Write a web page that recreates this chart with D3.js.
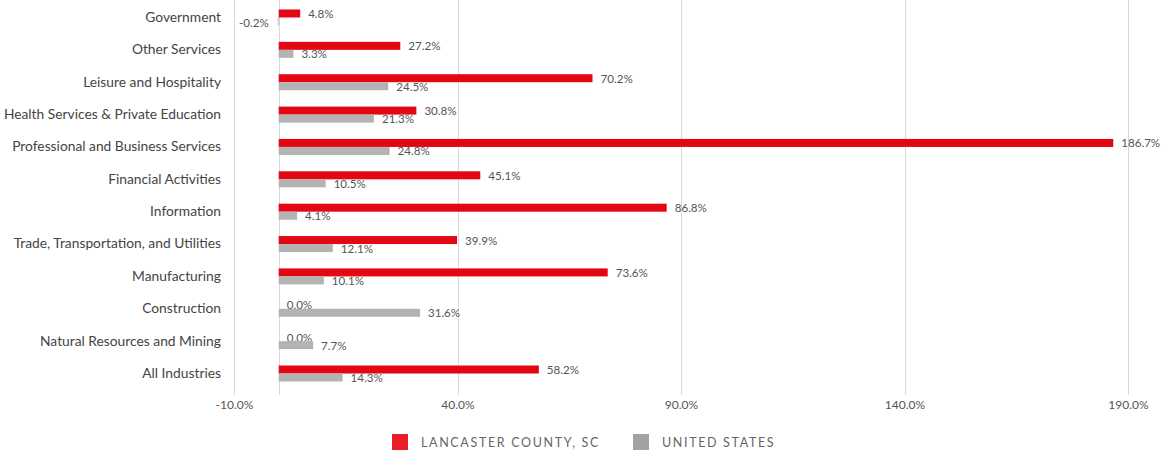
<!DOCTYPE html>
<html><head><meta charset="utf-8">
<script src="https://cdn.jsdelivr.net/npm/d3@7"></script>
<style>
body{margin:0;background:#fff;}
svg{display:block;font-family:Lato,"Open Sans",sans-serif;}
</style></head>
<body>
<svg id="c" width="1161" height="453"></svg>
<script>
const categories = ["Government","Other Services","Leisure and Hospitality","Health Services & Private Education","Professional and Business Services","Financial Activities","Information","Trade, Transportation, and Utilities","Manufacturing","Construction","Natural Resources and Mining","All Industries"];
const lancaster = [4.8,27.2,70.2,30.8,186.7,45.1,86.8,39.9,73.6,0.0,0.0,58.2];
const unitedStates = [-0.2,3.3,24.5,21.3,24.8,10.5,4.1,12.1,10.1,31.6,7.7,14.3];
const tickValues = [-10,40,90,140,190];
const seriesNames = ["LANCASTER COUNTY, SC","UNITED STATES"];

const svg = d3.select("#c");
const x = d3.scaleLinear().domain([-10,190]).range([234,1128]);
const y = d3.scaleBand().domain(categories).range([1.3,389.7]);
const barH = 8;
const red = "#e30613", gray = "#b3b3b3";

// gridlines
svg.append("g").selectAll("line").data(tickValues.concat([0])).join("line")
  .attr("x1",d=>Math.round(x(d))+0.5).attr("x2",d=>Math.round(x(d))+0.5)
  .attr("y1",0).attr("y2",395).attr("stroke","#d9d9d9").attr("stroke-width",1);

// x axis labels
const xAxis = d3.axisBottom(x).tickValues(tickValues).tickSize(0).tickPadding(0)
  .tickFormat(d=>d.toFixed(1)+"%");
const gx = svg.append("g").attr("transform","translate(0,400)").call(xAxis);
gx.select(".domain").remove();
gx.selectAll("text").attr("fill","#555").attr("font-size","12px").attr("font-family","Lato,'Open Sans',sans-serif");

// y axis labels
const yAxis = d3.axisLeft(y).tickSize(0).tickPadding(0);
const gy = svg.append("g").attr("transform","translate(221,0)").call(yAxis);
gy.select(".domain").remove();
gy.selectAll("text").attr("fill","#444").attr("font-size","13.8px").attr("font-family","Lato,'Open Sans',sans-serif");

const rows = categories.map((c,i)=>({c, a:lancaster[i], b:unitedStates[i]}));
const fmt = v=>v.toFixed(1)+"%";
const mid = c=>y(c)+y.bandwidth()/2;

function drawSeries(key, color, offset){
  svg.append("g").selectAll("rect").data(rows).join("rect")
    .attr("x",d=>x(Math.min(0,d[key])))
    .attr("width",d=>Math.abs(x(d[key])-x(0)))
    .attr("y",d=>mid(d.c)+offset)
    .attr("height",barH).attr("fill",color);
  svg.append("g").selectAll("text").data(rows).join("text")
    .attr("x",d=>d[key]<0? x(0)-10 : x(d[key])+8)
    .attr("text-anchor",d=>d[key]<0?"end":"start")
    .attr("y",d=>mid(d.c)+offset+barH/2+4.5 + (d[key]<0?1:0))
    .attr("fill","#555").attr("font-size","11.6px")
    .text(d=>fmt(d[key]));
}
drawSeries("a",red,-barH);
drawSeries("b",gray,0);

// legend
const leg = svg.append("g");
const legItems = [{n:seriesNames[0],c:"#ee1c25",x:392,tx:421},{n:seriesNames[1],c:"#a0a3a6",x:633,tx:662}];
leg.selectAll("rect").data(legItems).join("rect")
  .attr("x",d=>d.x).attr("y",434).attr("width",16).attr("height",16).attr("fill",d=>d.c);
leg.selectAll("text").data(legItems).join("text")
  .attr("x",d=>d.tx).attr("y",447).attr("fill","#666").attr("font-size","12.5px")
  .attr("letter-spacing","1.65px").text(d=>d.n);
</script>
</body></html>
